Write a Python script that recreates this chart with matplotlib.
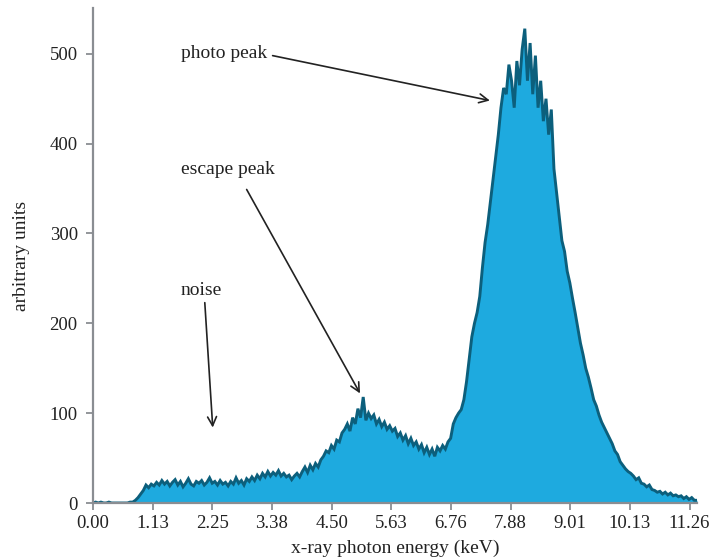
import matplotlib
matplotlib.use("Agg")
import matplotlib.pyplot as plt
import numpy as np

# ---- data ----
energy_step = 0.05  # keV per sample
counts = [
    0, 1, 0, 1, 0, 0, 1, 0, 0, 0, 0, 0, 0, 0, 1,
    1, 3, 6, 10, 14, 20, 17, 21, 19, 23, 20, 25, 21, 24, 19,
    23, 26, 20, 24, 18, 22, 27, 21, 19, 24, 22, 25, 20, 23, 28,
    22, 24, 20, 25, 21, 23, 19, 24, 21, 28, 22, 25, 20, 27, 24,
    29, 25, 31, 27, 33, 29, 35, 30, 34, 31, 36, 30, 33, 29, 31,
    26, 30, 33, 29, 35, 40, 34, 42, 37, 44, 40, 48, 52, 58, 56,
    64, 60, 70, 68, 78, 82, 88, 80, 95, 88, 105, 95, 118, 92, 100,
    94, 98, 88, 93, 85, 90, 82, 86, 80, 83, 74, 78, 70, 75, 66,
    72, 64, 68, 60, 65, 56, 62, 54, 60, 52, 62, 58, 64, 60, 68,
    72, 88, 95, 100, 104, 115, 135, 160, 185, 200, 212, 230, 262, 290, 310,
    335, 360, 385, 410, 440, 462, 455, 488, 470, 440, 492, 465, 505, 528, 470,
    512, 455, 498, 440, 470, 425, 450, 410, 438, 372, 345, 318, 292, 280, 258,
    245, 228, 212, 195, 178, 165, 150, 140, 128, 115, 108, 98, 90, 84, 78,
    72, 66, 58, 54, 46, 42, 38, 35, 33, 30, 26, 28, 22, 21, 18,
    20, 15, 14, 12, 13, 10, 12, 9, 11, 8, 9, 7, 8, 5, 7,
    4, 6, 3, 3,
]
tick_step = 1.126
tick_count = 11
y_ticks = [0, 100, 200, 300, 400, 500]
x_label = "x-ray photon energy (keV)"
y_label = "arbitrary units"
annotations = [
    # label, text position, arrow start, arrow end (data coords)
    ("photo peak", (1.66, 500), (3.39, 498), (7.49, 448)),
    ("escape peak", (1.66, 371), (2.90, 349), (5.04, 122)),
    ("noise", (1.66, 237), (2.11, 223), (2.26, 84)),
]

energy = np.arange(len(counts)) * energy_step
counts = np.array(counts, dtype=float)

plt.rcParams['font.family'] = ['Liberation Serif', 'DejaVu Serif']

fig = plt.figure(figsize=(7.12, 5.6), dpi=100)
ax = fig.add_axes([93 / 712, 1 - 503 / 560, 604 / 712, 495 / 560])

fill_color = "#1eaadf"
line_color = "#0c5f7c"
ax.fill_between(energy, 0, counts, color=fill_color, lw=0, zorder=2)
ax.plot(energy, counts, color=line_color, lw=2.1, zorder=3, solid_joinstyle='miter')

ax.set_xlim(0, energy[-1])
ax.set_ylim(0, 551)

xt = [i * tick_step for i in range(tick_count)]
ax.set_xticks(xt)
ax.set_xticklabels([f"{v:.2f}" for v in xt])
ax.set_yticks(y_ticks)
ax.set_yticklabels([str(v) for v in y_ticks])

for s in ("top", "right"):
    ax.spines[s].set_visible(False)
spine_color = "#8a8d92"
for s in ("left", "bottom"):
    ax.spines[s].set_color(spine_color)
    ax.spines[s].set_linewidth(1.6)
    ax.spines[s].set_zorder(4)
ax.tick_params(axis='both', colors=spine_color, length=5, width=1.3,
               labelcolor="#222222", labelsize=13.5)
ax.tick_params(axis='x', pad=4)
ax.tick_params(axis='y', pad=6)

ax.set_xlabel(x_label, fontsize=14, color="#222222", labelpad=5)
ax.set_ylabel(y_label, fontsize=14, color="#222222", labelpad=14)

for label, tpos, start, end in annotations:
    ax.text(tpos[0], tpos[1], label, fontsize=14, color="#222222",
            ha='left', va='center', zorder=5)
    ax.annotate('', xy=end, xytext=start,
                arrowprops=dict(arrowstyle='->', lw=1.2, color="#222222",
                                mutation_scale=16, shrinkA=0, shrinkB=0),
                zorder=5)

fig.savefig("out.png", dpi=100)
